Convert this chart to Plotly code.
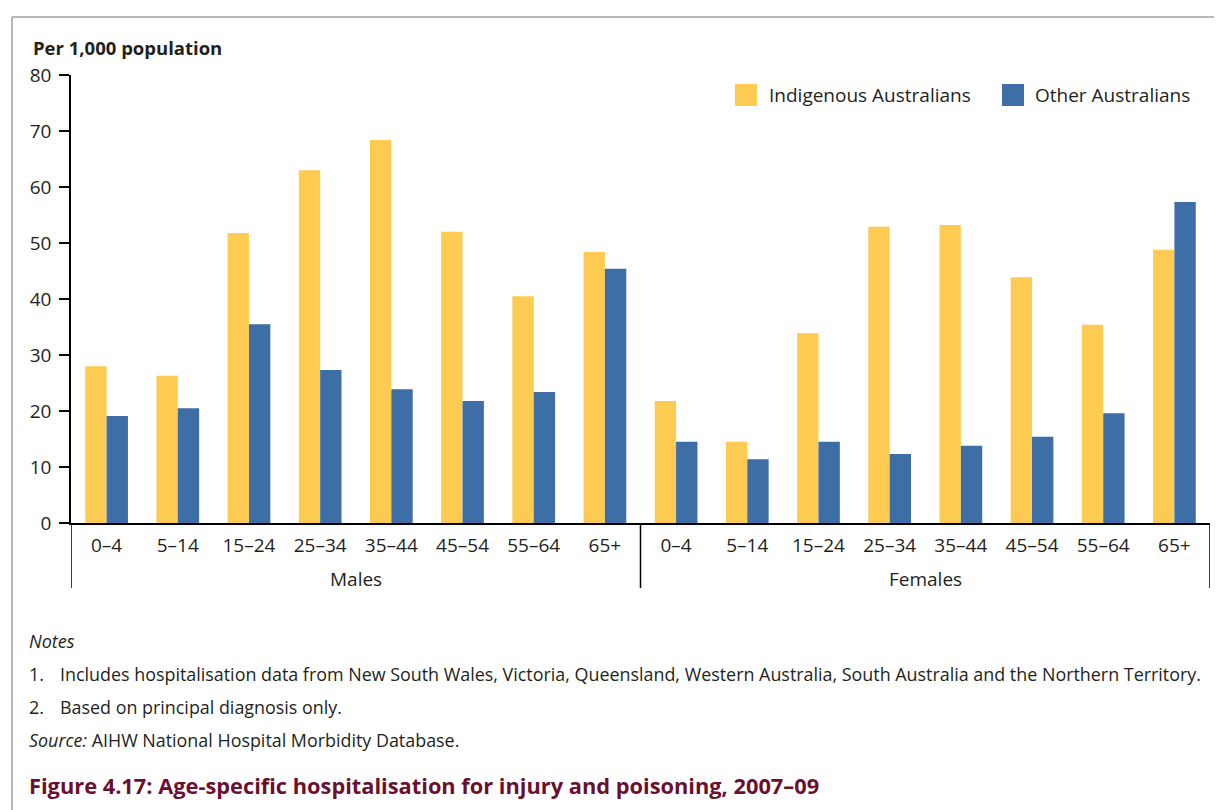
import plotly.graph_objects as go

group_names = ["Males", "Females"]
age_groups = ["0–4", "5–14", "15–24", "25–34", "35–44", "45–54", "55–64", "65+"]
groups = [g for g in group_names for _ in age_groups]
ages = age_groups * 2
indigenous = [28.0, 26.3, 51.8, 63.0, 68.4, 52.0, 40.5, 48.4,
              21.8, 14.5, 33.9, 52.9, 53.2, 43.9, 35.4, 48.8]
other = [19.1, 20.5, 35.5, 27.3, 23.9, 21.8, 23.4, 45.4,
         14.5, 11.4, 14.5, 12.3, 13.8, 15.4, 19.6, 57.3]
series_names = ["Indigenous Australians", "Other Australians"]
colors = ["#FECB52", "#3D6EA5"]
y_ticks = [0, 10, 20, 30, 40, 50, 60, 70, 80]

FONT = "Open Sans"
TXT = "#231F20"

OFF = 8  # page body margin
W, H = 1222, 810
# plot area in page pixels
L, R, T, B = 71, 1210, 75, 523
def px(x):
    return (x - L) / (R - L)
def py(y):
    return (B - y) / (B - T)

cats = [g + " " + a for g, a in zip(groups, ages)]

fig = go.Figure()
for name, vals, col in zip(series_names, [indigenous, other], colors):
    fig.add_trace(go.Bar(x=cats, y=vals, name=name,
                         marker=dict(color=col, line=dict(width=0)),
                         showlegend=False))

fig.update_layout(
    width=W - OFF, height=H - OFF,
    margin=dict(l=L - OFF, r=W - R, t=T - OFF, b=H - B, pad=0),
    paper_bgcolor="white", plot_bgcolor="white",
    barmode="group", bargap=0.4, bargroupgap=0,
    font=dict(family=FONT, color=TXT, size=19),
    xaxis=dict(type="category", tickvals=cats, ticktext=ages,
               showline=True, linecolor="black", linewidth=1.5,
               ticks="", showgrid=False, tickfont=dict(size=19, color=TXT),
               ticklabelstandoff=4, range=[-0.5, len(cats) - 0.5]),
    yaxis=dict(range=[0, 80], tickvals=y_ticks, showline=True, linecolor="black",
               linewidth=1.5, ticks="outside", ticklen=10, tickcolor="black",
               tickwidth=1.5, showgrid=False, zeroline=False,
               ticklabelstandoff=4,
               tickfont=dict(size=19, color=TXT)),
)

ann = []
def text(x, y, s, size=18, color=TXT, anchor="left", bold=False, italic=False):
    if bold:
        s = "<b>" + s + "</b>"
    if italic:
        s = "<i>" + s + "</i>"
    ann.append(dict(x=px(x), y=py(y), xref="paper", yref="paper", text=s,
                    showarrow=False, xanchor=anchor, yanchor="middle",
                    font=dict(size=size, color=color, family=FONT)))

shapes = []
# group labels and dividers
n = len(age_groups)
for gi, g in enumerate(group_names):
    ann.append(dict(x=gi * n + (n - 1) / 2, y=py(579), xref="x", yref="paper", text=g,
                    showarrow=False, xanchor="center", yanchor="middle",
                    font=dict(size=19, color=TXT, family=FONT)))
for xb in [-0.5 + gi * n for gi in range(len(group_names) + 1)]:
    shapes.append(dict(type="line", xref="x", yref="paper", x0=xb, x1=xb,
                       y0=0, y1=py(588), line=dict(color="black", width=1.5)))

text(31, 47, "Per 1,000 population", size=18.5, bold=True)
# legend
for (sx, tx), name, col in zip([(735, 767), (1002, 1033)], series_names, colors):
    shapes.append(dict(type="rect", xref="paper", yref="paper",
                       x0=px(sx), x1=px(sx + 22), y0=py(84), y1=py(106),
                       fillcolor=col, line=dict(width=0)))
    text(tx, 95, name, size=19)

text(27, 641, "Notes", size=18, italic=True)
text(27, 674, "1.", size=18)
text(58, 674, "Includes hospitalisation data from New South Wales, Victoria, Queensland, Western Australia, South Australia and the Northern Territory.", size=17.9)
text(27, 707, "2.", size=18)
text(58, 707, "Based on principal diagnosis only.", size=17.9)
text(27, 740, "<i>Source:</i> AIHW National Hospital Morbidity Database.", size=17.9)
text(27, 785, "Figure 4.17: Age-specific hospitalisation for injury and poisoning, 2007–09",
     size=21.8, color="#6A0F2F", bold=True)

# frame
shapes.append(dict(type="line", xref="paper", yref="paper", x0=px(12), x1=px(1230),
                   y0=py(17), y1=py(17), line=dict(color="#A0A0A0", width=1.5)))
shapes.append(dict(type="line", xref="paper", yref="paper", x0=px(12), x1=px(12),
                   y0=py(17), y1=py(820), line=dict(color="#A0A0A0", width=1.5)))

fig.update_layout(annotations=ann, shapes=shapes)
fig.write_html("out.html")
